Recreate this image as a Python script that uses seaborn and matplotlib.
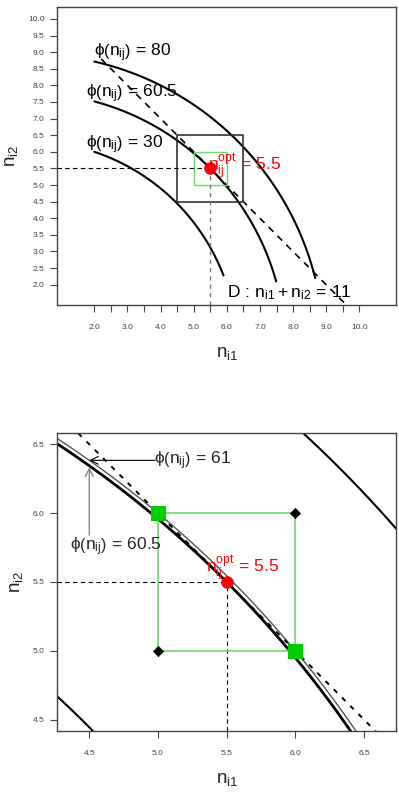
import numpy as np
import pandas as pd
import matplotlib
matplotlib.use("Agg")
import matplotlib.pyplot as plt
import seaborn as sns

sns.set_style("white")
plt.rcParams['font.family'] = ['Liberation Sans', 'DejaVu Sans']
plt.rcParams['mathtext.fontset'] = 'custom'
plt.rcParams['mathtext.rm'] = 'Liberation Sans'
plt.rcParams['mathtext.it'] = 'Liberation Sans'
plt.rcParams['mathtext.bf'] = 'Liberation Sans:bold'

# ---------------- data ----------------
# contour levels of phi(n) = n_i1^2 + n_i2^2 as drawn
levels = [40.0, 60.5, 80.0]
level_labels = ["30", "60.5", "80"]
top_curve_x_start = [2.0, 2.0, 2.0]
top_curve_x_end = [5.9, 7.49, 8.67]
line_total = 11.0                 # D : n_i1 + n_i2 = 11
top_line_x = [2.2, 9.6]
opt_point = [5.5, 5.5]
black_box = [4.5, 6.5]
green_box = [5.0, 6.0]
zoom_levels = [60.5, 61.0]
green_pts_x = [5.0, 6.0]
green_pts_y = [6.0, 5.0]
black_pts_x = [5.0, 6.0]
black_pts_y = [5.0, 6.0]
top_ticks = np.arange(2.0, 10.01, 0.5)
bot_ticks = [4.5, 5.0, 5.5, 6.0, 6.5]

GREY = "#444444"
GREEN_LINE = "#6fd86f"
GREEN_PT = "#00cc00"
RED = "#ff0000"
FS = 12.5


def curve(level, x0, x1, n=300):
    x = np.linspace(x0, x1, n)
    y = np.sqrt(np.clip(level - x ** 2, 0, None))
    return pd.DataFrame({"n1": x, "n2": y})


def phi_label(val):
    return r"$\phi\left(\mathregular{n_{ij}}\right)\,=\,%s$" % val


def style_axes(ax, xt, yt, xlab_mask=None):
    for s in ax.spines.values():
        s.set_color(GREY)
        s.set_linewidth(1.0)
    ax.set_xticks(xt)
    ax.set_yticks(yt)
    xl = []
    for i, v in enumerate(xt):
        if xlab_mask is None or xlab_mask[i]:
            xl.append(f"{v:.1f}")
        else:
            xl.append("")
    ax.set_xticklabels(xl)
    ax.set_yticklabels([f"{v:.1f}" for v in yt])
    ax.tick_params(axis='both', direction='out', length=5, width=0.8,
                   color=GREY, labelsize=6, labelcolor=GREY,
                   bottom=True, left=True)
    ax.tick_params(axis='x', pad=9)
    ax.tick_params(axis='y', pad=4)
    ax.set_xlabel(r"$\mathregular{n_{i1}}$", fontsize=13.5, labelpad=10, color="#222222")
    ax.set_ylabel(r"$\mathregular{n_{i2}}$", fontsize=13.5, labelpad=6, color="#222222")
    ax.grid(False)


fig = plt.figure(figsize=(3.99, 7.93), dpi=100)
ax1 = fig.add_axes([0.1436, 0.6154, 0.849, 0.3754])
ax2 = fig.add_axes([0.1436, 0.0786, 0.849, 0.375])

# ---------------- top panel ----------------
for lev, x0, x1 in zip(levels, top_curve_x_start, top_curve_x_end):
    d = curve(lev, x0, x1)
    sns.lineplot(data=d, x="n1", y="n2", ax=ax1, sort=False, estimator=None,
                 color="black", lw=1.5)

dl = pd.DataFrame({"n1": top_line_x, "n2": [line_total - v for v in top_line_x]})
sns.lineplot(data=dl, x="n1", y="n2", ax=ax1, sort=False, estimator=None,
             color="black", lw=1.2, linestyle=(0, (4, 3.5)))

ax1.plot([black_box[0], black_box[1], black_box[1], black_box[0], black_box[0]],
         [black_box[0], black_box[0], black_box[1], black_box[1], black_box[0]],
         color="#333333", lw=1.2)
ax1.plot([green_box[0], green_box[1], green_box[1], green_box[0], green_box[0]],
         [green_box[0], green_box[0], green_box[1], green_box[1], green_box[0]],
         color=GREEN_LINE, lw=1.0)

ax1.set_xlim(0.88, 11.11)
ax1.set_ylim(1.39, 10.35)
ax1.plot([0.88, opt_point[0]], [opt_point[1], opt_point[1]], color="black",
         lw=0.8, linestyle=(0, (4, 3)))
ax1.plot([opt_point[0], opt_point[0]], [1.39, opt_point[1]], color="#777777",
         lw=1.0, linestyle=(0, (3, 3)))

sns.scatterplot(x=[opt_point[0]], y=[opt_point[1]], ax=ax1, color=RED, s=70,
                edgecolor=RED, zorder=5)

label_pos_top = {"80": (1.98, 8.98), "60.5": (1.75, 7.76), "30": (1.75, 6.22)}
for lab in level_labels:
    x, y = label_pos_top[lab]
    ax1.text(x, y, phi_label(lab), fontsize=FS, ha="left", va="center",
             color="black")
ax1.text(5.42, 5.58, r"$\mathregular{n_{ij}^{opt}}\,=\,5.5$", fontsize=FS,
         ha="left", va="center", color=RED, zorder=6)
ax1.text(6.02, 1.75, r"$\mathregular{D\,:\,n_{i1}+n_{i2}\,=\,11}$", fontsize=FS,
         ha="left", va="center", color="black")

style_axes(ax1, top_ticks, top_ticks,
           xlab_mask=[abs(v - round(v)) < 1e-9 for v in top_ticks])

# ---------------- bottom panel ----------------
xl2 = (4.267, 6.733)
yl2 = (4.42, 6.58)
for lev in levels:
    d = curve(lev, 3.0, 9.0, 800)
    lw = 2.0 if lev == 60.5 else 1.5
    sns.lineplot(data=d, x="n1", y="n2", ax=ax2, sort=False, estimator=None,
                 color="black", lw=lw)
d61 = curve(zoom_levels[1], 3.0, 9.0, 800)
sns.lineplot(data=d61, x="n1", y="n2", ax=ax2, sort=False, estimator=None,
             color="#555555", lw=1.0)
dl2 = pd.DataFrame({"n1": [4.0, 7.0], "n2": [line_total - 4.0, line_total - 7.0]})
sns.lineplot(data=dl2, x="n1", y="n2", ax=ax2, sort=False, estimator=None,
             color="black", lw=1.4, linestyle=(0, (2.5, 3.5)))

ax2.plot([green_box[0], green_box[1], green_box[1], green_box[0], green_box[0]],
         [green_box[0], green_box[0], green_box[1], green_box[1], green_box[0]],
         color=GREEN_LINE, lw=1.2, zorder=3)
ax2.plot([xl2[0], opt_point[0]], [opt_point[1], opt_point[1]], color="black",
         lw=0.8, linestyle=(0, (4, 3)))
ax2.plot([opt_point[0], opt_point[0]], [yl2[0], opt_point[1]], color="black",
         lw=0.8, linestyle=(0, (4, 3)))

sns.scatterplot(x=green_pts_x, y=green_pts_y, ax=ax2, color=GREEN_PT, marker="s",
                s=90, edgecolor=GREEN_PT, zorder=5)
sns.scatterplot(x=black_pts_x, y=black_pts_y, ax=ax2, color="black", marker="D",
                s=28, edgecolor="black", zorder=5)
sns.scatterplot(x=[opt_point[0]], y=[opt_point[1]], ax=ax2, color=RED, s=70,
                edgecolor=RED, zorder=6)

# arrows to the two curves at n_i1 = 4.5
tip61 = np.sqrt(zoom_levels[1] - 4.5 ** 2)
tip605 = np.sqrt(zoom_levels[0] - 4.5 ** 2)
ax2.annotate("", xy=(4.5, tip61), xytext=(4.98, tip61),
             arrowprops=dict(arrowstyle="->", color="black", lw=0.8,
                             shrinkA=0, shrinkB=0, mutation_scale=14))
ax2.annotate("", xy=(4.5, tip605 - 0.01), xytext=(4.5, 5.84),
             arrowprops=dict(arrowstyle="->", color="#888888", lw=1.0,
                             shrinkA=0, shrinkB=0, mutation_scale=14))
ax2.text(4.97, tip61, phi_label("61"), fontsize=FS, ha="left", va="center")
ax2.text(4.36, 5.755, phi_label("60.5"), fontsize=FS, ha="left", va="center")
ax2.text(5.35, 5.6, r"$\mathregular{n_{ij}^{opt}}\,=\,5.5$", fontsize=FS,
         ha="left", va="center", color=RED, zorder=7)

ax2.set_xlim(*xl2)
ax2.set_ylim(*yl2)
style_axes(ax2, bot_ticks, bot_ticks)

fig.savefig("out.png", dpi=100)
